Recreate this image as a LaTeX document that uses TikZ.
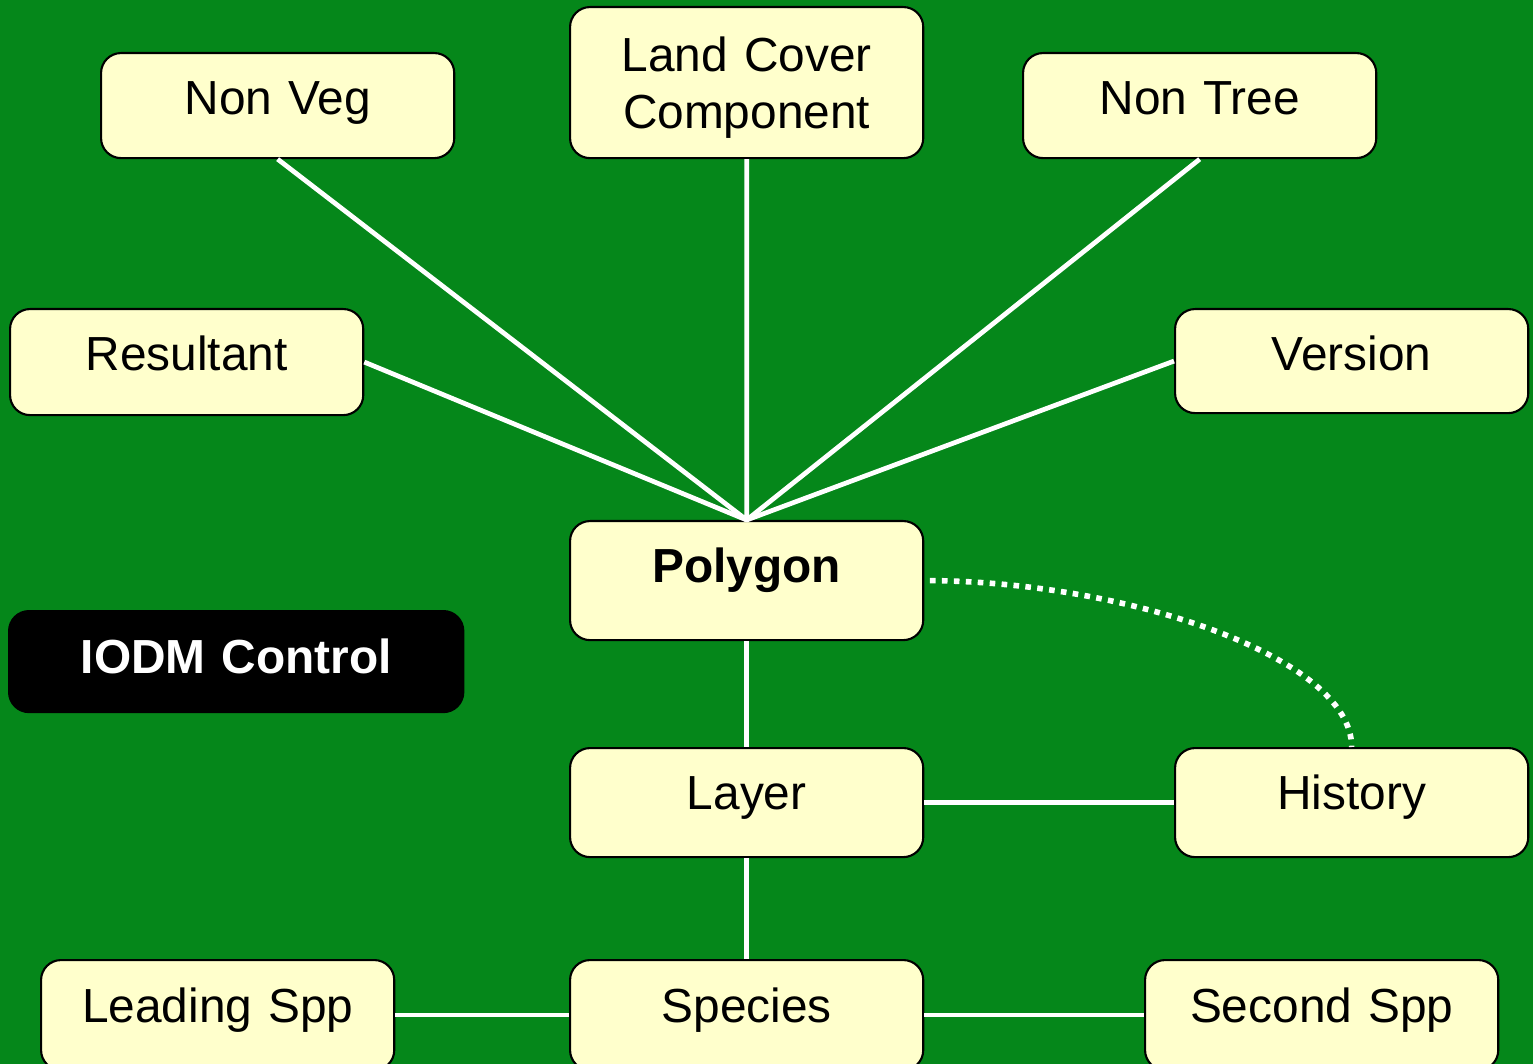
\documentclass[tikz,border=0pt]{standalone}
\usepackage{fontspec}
\setmainfont{Liberation Sans}
\definecolor{bggreen}{RGB}{5,135,26}
\definecolor{boxfill}{RGB}{255,255,204}
\tikzset{
	box/.style={draw=black, fill=boxfill, line width=0.6pt, rounded corners=0.2cm, inner sep=0pt,
		text width=3.53cm, align=center, text height=0.61cm, anchor=north west},
	ctrlbox/.style={box, fill=black, text=white, text width=4.54cm},
	link/.style={white, line width=1.35pt},
}
\begin{document}
\begin{tikzpicture}[x=0.01cm, y=-0.01cm, font=\fontsize{13.6pt}{16.2pt}\selectfont, line join=round]
			\useasboundingbox (0,0) rectangle (1533,1064);
			\clip (0,0) rectangle (1533,1064);
			\fill[bggreen] (0,0) rectangle (1533,1064);
			\node[box, text depth=0.44cm] (nonveg) at (100,52) {Non Veg};
			\node[box, text height=0.64cm, text depth=0.87cm] (landcover) at (569,6) {Land Cover\\Component};
			\node[box, text depth=0.44cm] (nontree) at (1022,52) {Non Tree};
			\node[box, text depth=0.45cm] (resultant) at (9,308) {Resultant};
			\node[box, text depth=0.43cm] (version) at (1174,308) {Version};
			\node[box, text depth=0.58cm] (polygon) at (569,520) {\textbf{Polygon}};
			\node[ctrlbox, text height=0.62cm, text depth=0.39cm] (iodm) at (8,610) {\textbf{IODM Control}};
			\node[box, text depth=0.48cm] (layer) at (569,747) {Layer};
			\node[box, text depth=0.48cm] (history) at (1174,747) {History};
			\node[box, text height=0.62cm, text depth=0.48cm] (leading) at (40,959) {Leading Spp};
			\node[box, text height=0.62cm, text depth=0.48cm] (species) at (569,959) {Species};
			\node[box, text height=0.62cm, text depth=0.48cm] (second) at (1144,959) {Second Spp};
			\draw[link] (nonveg.south)--(polygon.north)--(landcover.south);
			\draw[link] (nontree.south)--(polygon.north);
			\draw[link] (resultant.east)--(polygon.north)--(version.west);
			\draw[link] (polygon.south)--(layer.north);
			\draw[link] (layer.east)--(history.west);
			\draw[link] (layer.south)--(species.north);
			\draw[link] (leading.east)--(species.west);
			\draw[link] (species.east)--(second.west);
			\draw[white, line width=1.6pt, dash pattern=on 1.6pt off 1.8pt, dash phase=1.8pt]
			(polygon.east) .. controls +(200,0) and +(0,-90) .. (history.north);
	\end{tikzpicture}
\end{document}
